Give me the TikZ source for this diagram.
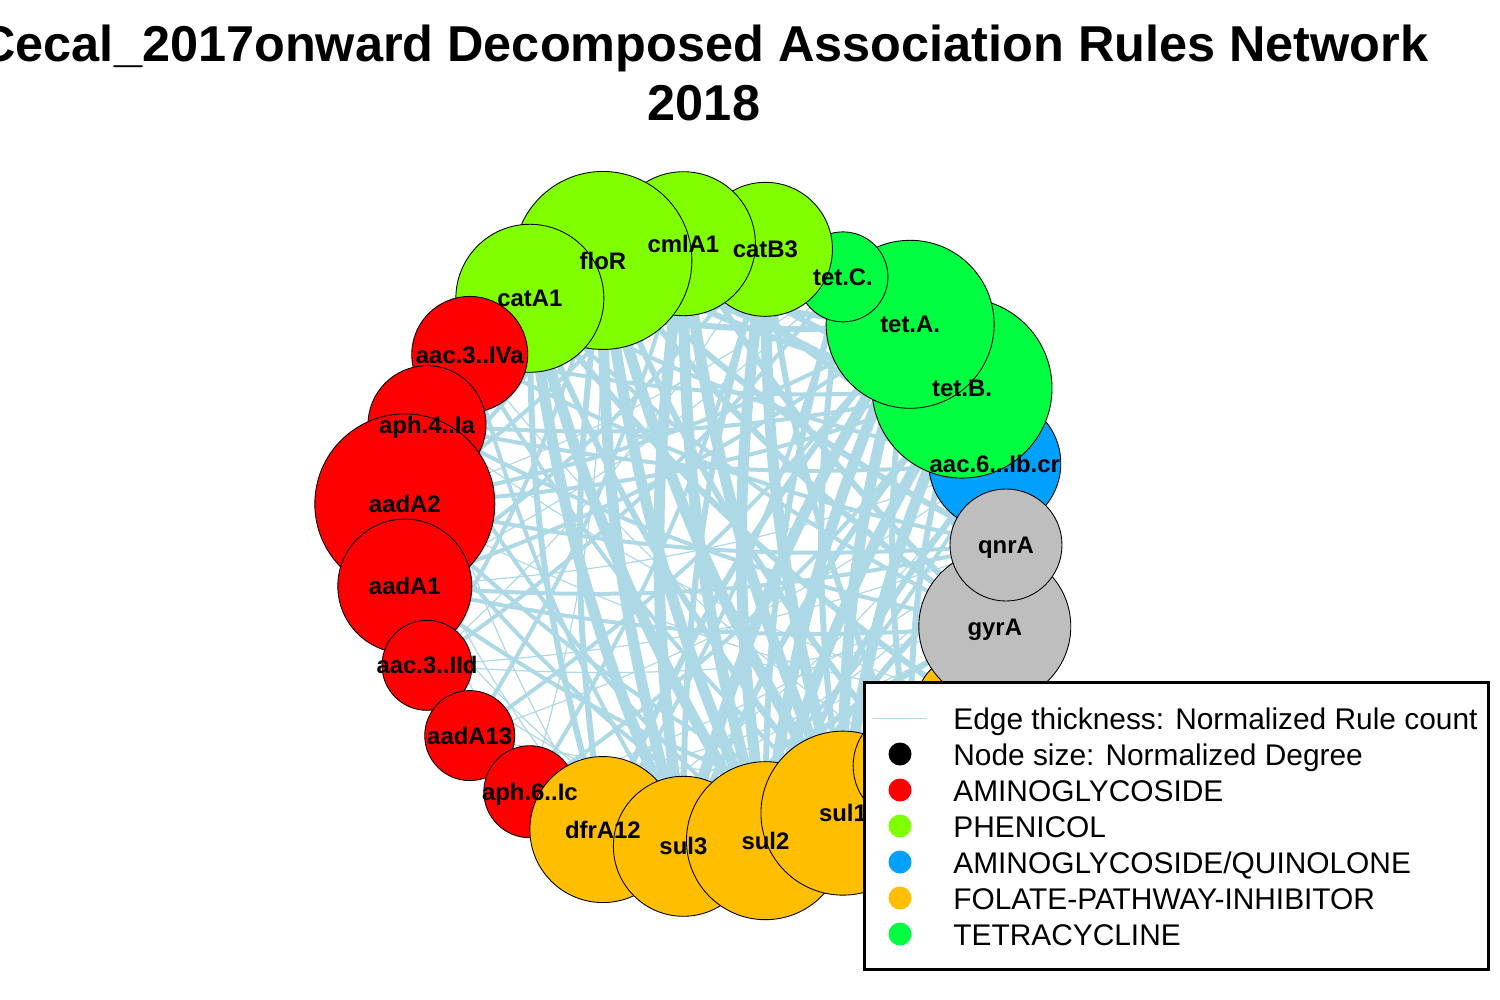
\documentclass[tikz,border=0pt]{standalone}
\usepackage{fontspec}
\setmainfont{Liberation Sans}
\definecolor{aminored}{RGB}{255,0,0}
\definecolor{phengreen}{RGB}{128,255,0}
\definecolor{quinblue}{RGB}{0,160,255}
\definecolor{folorange}{RGB}{255,191,0}
\definecolor{tetgreen}{RGB}{0,255,64}
\definecolor{genegray}{RGB}{190,190,190}
\definecolor{edgeblue}{RGB}{173,216,230}
\begin{document}
\begin{tikzpicture}[x=0.2mm,y=-0.2mm,
  ruleline/.style={color=edgeblue,line width=#1},
  gene/.style={circle,draw=black,line width=0.5pt,inner sep=0pt},
  glabel/.style={font=\bfseries\fontsize{13.6}{16}\selectfont,inner sep=0pt,anchor=base,yshift=-1.72mm},
  legtext/.style={font=\fontsize{17}{20}\selectfont,inner sep=0pt,anchor=base west}]
\useasboundingbox (0,0) rectangle (1500,1000);
\node[font=\bfseries\fontsize{28.7}{34}\selectfont,anchor=base] (title1) at (704,61) {Cecal\_2017onward Decomposed Association Rules Network};
\node[font=\bfseries\fontsize{28.7}{34}\selectfont,anchor=base] (title2) at (704,120) {2018};
\begin{scope}[shift={(704,545)}]
\foreach \k/\n in {0/qnrA,1/aac6Ibcr,2/tetB,3/tetA,4/tetC,5/catB3,6/cmlA1,7/floR,8/catA1,9/aac3IVa,10/aph4Ia,11/aadA2,12/aadA1,13/aac3IId,14/aadA13,15/aph6Ic,16/dfrA12,17/sul3,18/sul2,19/sul1,20/fol1,21/fol2,22/gyrA}{
\coordinate (\n) at ({-\k*360/23}:302);
}
\end{scope}
\foreach \a/\b in {aadA2/dfrA12,aadA2/aph6Ic,aadA1/sul3,aac3IVa/aadA13,aph4Ia/dfrA12,aac3IId/sul2,aadA13/sul1,aph6Ic/gyrA,aac3IVa/fol1,aadA2/fol2,aadA1/aac6Ibcr,aac3IId/qnrA,aadA13/aac6Ibcr,aph6Ic/qnrA,dfrA12/qnrA,aph4Ia/aadA13,aac3IVa/aadA1,aadA2/tetC,aph6Ic/floR,aac3IId/catB3,aadA13/sul2,dfrA12/aac6Ibcr,aph4Ia/fol2,aac3IId/gyrA,aadA1/tetC,aph6Ic/sul1,aadA13/fol1}{
\draw[ruleline=0.24mm] (\a) to[bend right=8] (\b);
}
\foreach \a/\b in {aadA2/floR,aadA2/tetA,aadA2/sul1,aadA2/sul2,aadA2/tetB,aadA2/qnrA,aph4Ia/tetB,aph4Ia/aac6Ibcr,aph4Ia/sul2,aac3IVa/sul3,aac3IVa/qnrA,aac3IVa/tetB,aadA1/tetA,aadA1/catB3,aadA1/sul1,aadA1/qnrA,aac3IId/tetC,aac3IId/floR,aadA13/cmlA1,aadA13/tetA,aph6Ic/catB3,aph6Ic/tetB,dfrA12/tetC,sul3/aac6Ibcr,catA1/aac6Ibcr,catA1/gyrA,aadA2/cmlA1,aph4Ia/gyrA,aadA1/gyrA,aac3IVa/sul1}{
\draw[ruleline=0.8mm] (\a) to[bend right=8] (\b);
}
\foreach \a/\b in {floR/dfrA12,catA1/dfrA12,catB3/sul3,tetB/sul3,tetC/sul1,tetC/sul2,floR/gyrA,floR/qnrA,cmlA1/gyrA,catB3/fol1,tetA/fol1,tetB/fol1,floR/fol1,catA1/fol2,tetA/dfrA12,floR/tetB,floR/tetA,catA1/tetA,cmlA1/aac6Ibcr,tetA/gyrA,aac6Ibcr/sul2,aac6Ibcr/floR,qnrA/catB3,catA1/sul1,gyrA/sul3,qnrA/sul2,cmlA1/tetB}{
\draw[ruleline=1.2mm] (\a) to[bend right=8] (\b);
}
\foreach \a/\b in {floR/sul2,floR/sul3,floR/sul1,catA1/sul2,catA1/sul3,cmlA1/sul1,cmlA1/sul2,catB3/sul2,catB3/sul1,tetA/sul1,tetA/sul2,tetB/sul2,tetB/sul1,tetA/sul3,cmlA1/sul3}{
\draw[ruleline=2.2mm] (\a) to[bend right=8] (\b);
}
\foreach \n/\r/\c in {aac6Ibcr/66/quinblue,tetB/90/tetgreen,tetA/84/tetgreen,tetC/45/tetgreen,catB3/67/phengreen,cmlA1/72/phengreen,floR/89/phengreen,catA1/74/phengreen,aac3IVa/58/aminored,aph4Ia/59/aminored,aadA2/90/aminored,aadA1/67/aminored,aac3IId/45/aminored,aadA13/45/aminored,aph6Ic/46/aminored,dfrA12/73/folorange,sul3/70/folorange,sul2/79/folorange,sul1/82/folorange,fol1/57/folorange,fol2/45/folorange,gyrA/76/genegray,qnrA/56/genegray}{
\node[gene,fill=\c,minimum size=\r*0.4mm] (\n-c) at (\n) {};
}
\node[glabel] (qnrA-l) at (qnrA) {qnrA};
\node[glabel] (aac6Ibcr-l) at (aac6Ibcr) {aac.6...Ib.cr};
\node[glabel] (tetB-l) at (tetB) {tet.B.};
\node[glabel] (tetA-l) at (tetA) {tet.A.};
\node[glabel] (tetC-l) at (tetC) {tet.C.};
\node[glabel] (catB3-l) at (catB3) {catB3};
\node[glabel] (cmlA1-l) at (cmlA1) {cmlA1};
\node[glabel] (floR-l) at (floR) {floR};
\node[glabel] (catA1-l) at (catA1) {catA1};
\node[glabel] (aac3IVa-l) at (aac3IVa) {aac.3..IVa};
\node[glabel] (aph4Ia-l) at (aph4Ia) {aph.4..Ia};
\node[glabel] (aadA2-l) at (aadA2) {aadA2};
\node[glabel] (aadA1-l) at (aadA1) {aadA1};
\node[glabel] (aac3IId-l) at (aac3IId) {aac.3..IId};
\node[glabel] (aadA13-l) at (aadA13) {aadA13};
\node[glabel] (aph6Ic-l) at (aph6Ic) {aph.6..Ic};
\node[glabel] (dfrA12-l) at (dfrA12) {dfrA12};
\node[glabel] (sul3-l) at (sul3) {sul3};
\node[glabel] (sul2-l) at (sul2) {sul2};
\node[glabel] (sul1-l) at (sul1) {sul1};
\node[glabel] (gyrA-l) at (gyrA) {gyrA};
\draw[line width=0.6mm,fill=white] (864,682) rectangle (1488,969);
\draw[ruleline=0.2mm] (872,718) -- (927,718);
\fill[color=black] (900,754) circle[radius=11.5];
\fill[color=aminored] (900,790) circle[radius=11.5];
\fill[color=phengreen] (900,826) circle[radius=11.5];
\fill[color=quinblue] (900,862) circle[radius=11.5];
\fill[color=folorange] (900,898) circle[radius=11.5];
\fill[color=tetgreen] (900,934) circle[radius=11.5];
\node[legtext] (leg1) at (953,729) {Edge thickness: Normalized Rule count};
\node[legtext] (leg2) at (953,765) {Node size: Normalized Degree};
\node[legtext] (leg3) at (953,801) {AMINOGLYCOSIDE};
\node[legtext] (leg4) at (953,837) {PHENICOL};
\node[legtext] (leg5) at (953,873) {AMINOGLYCOSIDE/QUINOLONE};
\node[legtext] (leg6) at (953,909) {FOLATE-PATHWAY-INHIBITOR};
\node[legtext] (leg7) at (953,945) {TETRACYCLINE};
\end{tikzpicture}
\end{document}
